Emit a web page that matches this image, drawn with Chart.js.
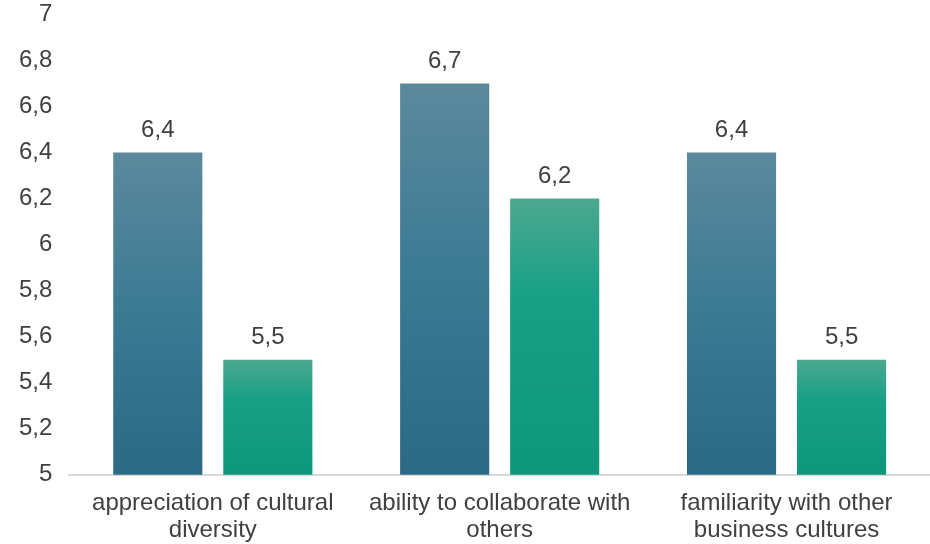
<!DOCTYPE html>
<html>
<head>
<meta charset="utf-8">
<script src="https://cdn.jsdelivr.net/npm/chart.js@4/dist/chart.umd.min.js"></script>
<style>
  html, body { margin: 0; padding: 0; background: #fff; overflow: hidden; }
  #wrap { width: 930px; height: 564px; margin-top: -17px; }
</style>
</head>
<body>
<div id="wrap"><canvas id="skillsChart"></canvas></div>
<script>
const categories = [
    ['appreciation of cultural', 'diversity'],
    ['ability to collaborate with', 'others'],
    ['familiarity with other', 'business cultures']
];
const seriesA = [6.4, 6.7, 6.4];
const seriesB = [5.5, 6.2, 5.5];
const yMin = 5;
const yMax = 7;
const yStep = 0.2;

const textColor = '#404040';
const fontFamily = '"Liberation Sans", Arial, sans-serif';

function commaNum(v) {
    return (Math.round(v * 10) / 10).toString().replace('.', ',');
}

// vertical gradient from the top of each bar down to the axis
function barGradient(stops, fallback) {
    return function(context) {
        const chart = context.chart;
        const yScale = chart.scales && chart.scales.y;
        if (!chart.chartArea || !yScale || context.raw === undefined) return fallback;
        const top = yScale.getPixelForValue(context.raw);
        const bottom = yScale.getPixelForValue(yMin);
        if (!isFinite(top) || !isFinite(bottom) || bottom - top < 1) return fallback;
        const g = chart.ctx.createLinearGradient(0, top, 0, bottom);
        stops.forEach(function(s) { g.addColorStop(s[0], s[1]); });
        return g;
    };
}

// value labels above the bars
const valueLabels = {
    id: 'valueLabels',
    afterDatasetsDraw(chart) {
        const ctx = chart.ctx;
        ctx.save();
        ctx.font = '24px ' + fontFamily;
        ctx.fillStyle = textColor;
        ctx.textAlign = 'center';
        ctx.textBaseline = 'bottom';
        chart.data.datasets.forEach(function(ds, i) {
            chart.getDatasetMeta(i).data.forEach(function(bar, j) {
                ctx.fillText(commaNum(ds.data[j]), bar.x, bar.y - 10);
            });
        });
        ctx.restore();
    }
};

new Chart(document.getElementById('skillsChart'), {
    type: 'bar',
    data: {
        labels: categories,
        datasets: [{
            data: seriesA,
            backgroundColor: barGradient([[0, '#5b899c'], [0.5, '#3a7a93'], [1, '#2b6985']], '#3a7a93'),
            barPercentage: 0.81,
            categoryPercentage: 0.767
        }, {
            data: seriesB,
            backgroundColor: barGradient([[0, '#4ca88e'], [0.35, '#18a086'], [1, '#0c977a']], '#18a086'),
            barPercentage: 0.81,
            categoryPercentage: 0.767
        }]
    },
    options: {
        responsive: true,
        maintainAspectRatio: false,
        animation: false,
        layout: { padding: { left: 2, right: 0, top: -13, bottom: -12 } },
        plugins: {
            legend: { display: false },
            tooltip: { enabled: false }
        },
        scales: {
            y: {
                min: yMin,
                max: yMax,
                grid: { display: false, drawTicks: false },
                border: { display: false },
                ticks: {
                    stepSize: yStep,
                    padding: 17,
                    color: textColor,
                    font: { family: fontFamily, size: 24 },
                    callback: function(v) { return commaNum(v); }
                }
            },
            x: {
                grid: { display: false, drawTicks: false },
                border: { display: true, color: '#d9d9d9', width: 2 },
                ticks: {
                    padding: 15,
                    color: textColor,
                    maxRotation: 0,
                    autoSkip: false,
                    font: { family: fontFamily, size: 24, lineHeight: 1.13 }
                }
            }
        }
    },
    plugins: [valueLabels]
});
</script>
</body>
</html>
